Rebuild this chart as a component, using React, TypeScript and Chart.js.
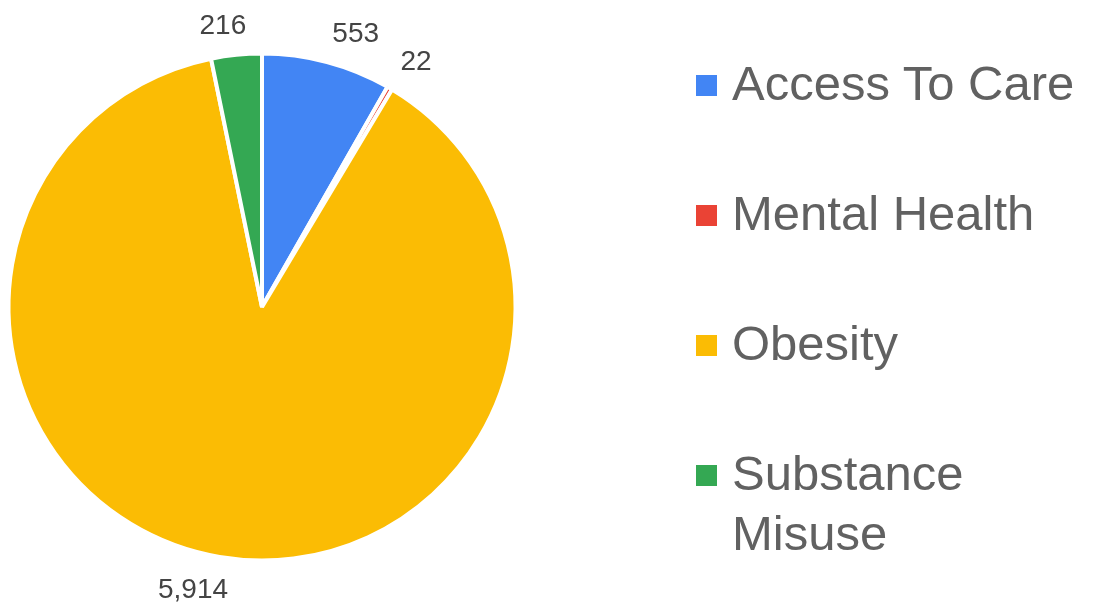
import React, { useEffect, useRef } from "react";
import { Chart, registerables } from "chart.js";

Chart.register(...registerables);

const categories = ["Access To Care", "Mental Health", "Obesity", "Substance Misuse"];
const values = [553, 22, 5914, 216];
const colors = ["#4285F4", "#EA4335", "#FBBC04", "#34A853"];

const FONT = '"Liberation Sans", Arial, sans-serif';

const labelPlugin = {
  id: "outsideLabels",
  afterDatasetsDraw(chart: any) {
    const ctx = chart.ctx;
    const meta = chart.getDatasetMeta(0);
    const data = chart.data.datasets[0].data as number[];
    ctx.save();
    ctx.font = `28px ${FONT}`;
    ctx.fillStyle = "#444444";
    meta.data.forEach((arc: any, i: number) => {
      const { x, y, startAngle, endAngle, outerRadius } = arc.getProps(
        ["x", "y", "startAngle", "endAngle", "outerRadius"],
        true
      );
      const mid = (startAngle + endAngle) / 2;
      const R = outerRadius + 21;
      const c = Math.cos(mid);
      const s = Math.sin(mid);
      let px = x + R * c;
      const py = y + R * s;
      const text = data[i].toLocaleString("en-US");
      if (c >= 0) {
        ctx.textAlign = "left";
      } else {
        ctx.textAlign = "right";
        px += 12;
      }
      ctx.textBaseline = "alphabetic";
      if (s < 0) {
        ctx.fillText(text, px, py);
      } else {
        ctx.fillText(text, px, py + 20);
      }
    });
    ctx.restore();
  },
};

export default function App() {
  const ref = useRef<HTMLCanvasElement | null>(null);

  useEffect(() => {
    if (!ref.current) return;
    const chart = new Chart(ref.current, {
      type: "pie",
      data: {
        labels: categories,
        datasets: [
          {
            data: values,
            backgroundColor: colors,
            borderColor: "#ffffff",
            borderWidth: 4,
            hoverOffset: 0,
            offset: 0,
          },
        ],
      },
      options: {
        responsive: false,
        animation: false,
        radius: 253.5,
        layout: { padding: { left: 0, right: 570, top: 8, bottom: 0 } },
        plugins: {
          legend: { display: false },
          tooltip: { enabled: false },
        },
      } as any,
      plugins: [labelPlugin],
    });
    return () => chart.destroy();
  }, []);

  const tops = [53, 183, 313, 443];

  return (
    <div
      style={{
        position: "fixed",
        left: 0,
        top: 0,
        width: 1094,
        height: 606,
        background: "#ffffff",
        overflow: "hidden",
      }}
    >
      <canvas ref={ref} width={1094} height={606} style={{ position: "absolute", left: 0, top: 0 }} />
      {categories.map((name, i) => (
        <div key={name}>
          <div
            style={{
              position: "absolute",
              left: 696,
              top: tops[i] + 22,
              width: 21,
              height: 21,
              background: colors[i],
            }}
          />
          <div
            style={{
              position: "absolute",
              left: 732,
              top: tops[i],
              width: 360,
              fontFamily: FONT,
              fontSize: 49,
              lineHeight: "60px",
              color: "#616161",
              whiteSpace: "normal",
            }}
          >
            {name}
          </div>
        </div>
      ))}
    </div>
  );
}
